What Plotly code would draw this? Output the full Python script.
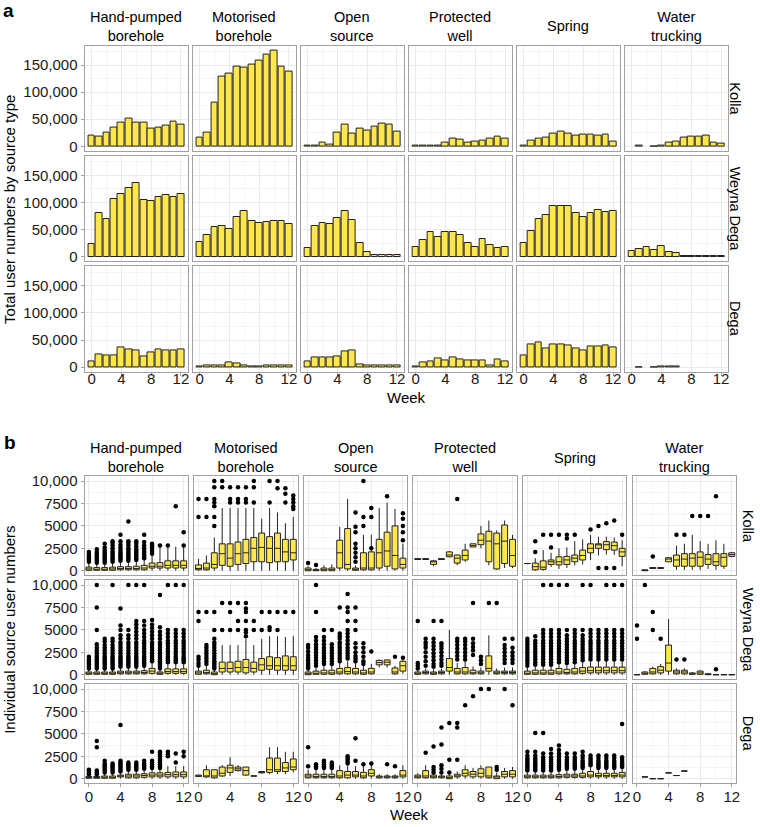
import plotly.graph_objects as go

W, H = 760, 827
WEEKS = [0, 1, 2, 3, 4, 5, 6, 7, 8, 9, 10, 11, 12]
SOURCES = ["Hand-pumped<br>borehole", "Motorised<br>borehole", "Open<br>source",
           "Protected<br>well", "Spring", "Water<br>trucking"]
ZONES = ["Kolla", "Weyna Dega", "Dega"]
A_YTICKS = [0, 50000, 100000, 150000]
A_YTEXT = ["0", "50,000", "100,000", "150,000"]
B_YTICKS = [0, 2500, 5000, 7500, 10000]
B_YTEXT = ["0", "2500", "5000", "7500", "10,000"]
XTICKS = [0, 4, 8, 12]

# ---------------- panel a: weekly totals ----------------
kolla_hand = [20000, 18000, 26000, 34000, 44000, 51000, 43000, 43000, 32000, 35000, 38000, 45000, 40000]
kolla_motor = [16000, 26000, 80000, 129000, 134000, 147000, 145000, 150000, 159000, 170000, 177000, 147000, 137000]
kolla_open = [600, 1500, 6000, 3000, 26000, 40000, 23000, 32000, 29000, 37000, 41000, 40000, 28000]
kolla_prot = [800, 800, 800, 1000, 7000, 15000, 12000, 6000, 8500, 10000, 15000, 18000, 15000]
kolla_spring = [1500, 11000, 15000, 16000, 24000, 27000, 24000, 19000, 22000, 22000, 20000, 22000, 9000]
kolla_water = [None, 500, None, 300, 800, 7000, 9000, 16500, 18000, 18000, 20500, 6000, 4500]

weyna_hand = [23000, 80000, 70000, 107000, 115000, 127000, 136000, 104000, 102000, 110000, 113000, 110000, 115000]
weyna_motor = [27000, 40000, 54000, 56000, 52000, 74000, 84000, 66000, 63000, 64000, 66000, 66000, 60000]
weyna_open = [16000, 57000, 63000, 61000, 72000, 84000, 67000, 25000, 8000, 3500, 2500, 3000, 3000]
weyna_prot = [17000, 31000, 46000, 37000, 45000, 46000, 40000, 25000, 18000, 33000, 22000, 16000, 17000]
weyna_spring = [26000, 48000, 70000, 77000, 94000, 94000, 94000, 80000, 74000, 80000, 86000, 83000, 84000]
weyna_water = [10000, 14500, 17000, 11500, 20000, 8500, 7000, 2000, 1000, 1500, 500, 1000, 500]

dega_hand = [10000, 24000, 22000, 21000, 37000, 32000, 31000, 19000, 28000, 32000, 30000, 30000, 32000]
dega_motor = [500, 4000, 2500, 3500, 8000, 6000, 3000, 500, 500, 4000, 4000, 3500, 4000]
dega_open = [10000, 17000, 17000, 18000, 19000, 29000, 30000, 5500, 3500, 3500, 3000, 3000, 3000]
dega_prot = [2000, 8500, 10000, 16000, 12000, 18000, 14000, 13000, 13000, 13000, 3000, 14000, 10000]
dega_spring = [21000, 41000, 46000, 34000, 42000, 42000, 40000, 35000, 30000, 38000, 38000, 40000, 37000]
dega_water = [None, 300, None, 300, 800, 400, 400, None, None, None, None, None, None]

TOTALS = [
    [kolla_hand, kolla_motor, kolla_open, kolla_prot, kolla_spring, kolla_water],
    [weyna_hand, weyna_motor, weyna_open, weyna_prot, weyna_spring, weyna_water],
    [dega_hand, dega_motor, dega_open, dega_prot, dega_spring, dega_water],
]

# ---------------- panel b: per-source box stats (lower, q1, median, q3, upper) ----------------
box_kolla_hand = [(0, 50, 200, 400, 900), (0, 50, 150, 350, 800), (0, 50, 150, 350, 800),
                  (0, 50, 200, 400, 900), (0, 100, 250, 450, 1000), (0, 100, 250, 450, 1000),
                  (0, 100, 250, 500, 1100), (0, 100, 300, 600, 1300), (0, 300, 500, 850, 1700),
                  (0, 300, 500, 900, 2600), (0, 300, 600, 1100, 2600), (0, 300, 600, 1100, 2700),
                  (0, 300, 600, 1100, 2700)]
out_kolla_hand = {0: [1000, 1200, 1400, 1600, 1800, 2100],
                  1: [900, 1100, 1300, 1500, 1700, 1900, 2100, 2400],
                  2: [900, 1100, 1300, 1500, 1700, 1900, 2100, 2300, 2600, 3000],
                  3: [1000, 1200, 1400, 1600, 1800, 2000, 2200, 2500, 2800, 3100, 3300],
                  4: [1100, 1300, 1500, 1700, 1900, 2100, 2300, 2600, 2900, 3300, 4000],
                  5: [1100, 1300, 1500, 1700, 1900, 2100, 2300, 2500, 2800, 3100, 3300, 5500],
                  6: [1200, 1400, 1600, 1800, 2000, 2200, 2400, 2700, 3000, 3300],
                  7: [1400, 1600, 1800, 2000, 2200, 2500, 2800, 3200, 4000],
                  8: [1900, 2100, 2300, 2600, 2800, 3000],
                  9: [2800], 10: [2800], 11: [7200], 12: [2800, 4300]}

box_kolla_motor = [(0, 100, 250, 650, 1300), (0, 100, 300, 850, 1700), (0, 300, 700, 2000, 3700),
                   (0, 600, 1900, 3000, 7000), (0, 500, 1400, 3000, 7000), (0, 700, 1900, 3200, 7000),
                   (0, 800, 2000, 3500, 7000), (0, 1000, 2500, 3700, 7000), (0, 1000, 2600, 4200, 5800),
                   (0, 900, 2500, 3800, 7000), (0, 1000, 2500, 4200, 6500), (0, 1000, 2100, 3500, 5300),
                   (0, 1200, 2000, 3500, 6000)]
out_kolla_motor = {0: [6000, 8000], 1: [6000, 8000],
                   2: [5000, 6000, 7200, 7600, 8000, 9300, 10000],
                   3: [9300, 10000], 4: [7600, 8000, 9300], 5: [7600, 8000, 9300],
                   6: [7600, 8000, 9300], 7: [7600, 9300, 10000], 9: [7600, 10000],
                   10: [9200, 10000], 11: [7600, 8600, 9200],
                   12: [6900, 7200, 7600, 8000, 8400]}

box_kolla_open = [(0, 0, 100, 300, 500), (0, 0, 50, 150, 300), (0, 0, 100, 300, 600),
                  (0, 0, 100, 300, 700), (0, 300, 2000, 3400, 4900), (0, 200, 700, 4700, 8000),
                  (0, 50, 150, 300, 600), (0, 100, 300, 2000, 4000), (0, 100, 300, 2100, 4000),
                  (0, 300, 2000, 3500, 7000), (0, 500, 2200, 4300, 7600), (0, 200, 1700, 5000, 6900),
                  (0, 300, 700, 1400, 3000)]
out_kolla_open = {0: [850], 1: [650],
                  6: [1000, 1500, 2000, 2500, 3000, 4300, 4900, 6500],
                  7: [5000, 6000, 10000], 8: [2500, 6000, 7000], 10: [8300],
                  12: [3400, 4300, 5000, 5800, 6400]}

box_kolla_prot = [(1250, 1250, 1300, 1350, 1350), (1250, 1250, 1300, 1350, 1350),
                  (500, 700, 1000, 1100, 1200), (1250, 1250, 1300, 1350, 1350),
                  (1500, 1550, 1750, 2100, 2200), (600, 850, 1400, 1750, 1800),
                  (1000, 1200, 1700, 2300, 3000), (2650, 2650, 2800, 3000, 3000),
                  (2500, 2900, 3400, 4100, 5000), (600, 1000, 3300, 4400, 5600),
                  (100, 200, 3000, 4200, 4500), (300, 800, 3300, 5100, 5600),
                  (300, 500, 1700, 3500, 4000)]
out_kolla_prot = {5: [8000]}

box_kolla_spring = [(800, 800, 800, 800, 800), (0, 100, 450, 850, 1400), (0, 150, 400, 1100, 2300),
                    (400, 700, 1000, 1200, 2000), (200, 650, 1000, 1550, 2500), (300, 700, 1200, 1600, 2600),
                    (600, 1000, 1400, 1750, 3300), (700, 1200, 1700, 2300, 3500), (1200, 2000, 2500, 3000, 4000),
                    (1700, 2500, 2900, 3000, 3800), (1800, 2350, 2900, 3250, 3800), (1750, 2300, 2800, 3200, 3700),
                    (500, 1600, 2100, 2500, 3400)]
out_kolla_spring = {1: [2100, 3300], 2: [4000], 3: [2600, 4000], 4: [4000], 5: [3600, 4000],
                    6: [4000], 8: [4600], 9: [300, 5000], 10: [300, 5300], 11: [300, 5600],
                    12: [4000]}

box_kolla_water = [None, (0, 0, 50, 100, 100), (250, 250, 300, 350, 350), (250, 250, 300, 350, 350),
                   (1000, 1000, 1300, 1450, 1450), (100, 500, 1200, 1750, 2800), (100, 500, 1300, 1900, 3000),
                   (100, 500, 1400, 1900, 4000), (100, 500, 1500, 2100, 3300), (200, 700, 1300, 1800, 3000),
                   (100, 600, 1000, 1900, 3400), (200, 500, 1500, 1900, 3000), (1500, 1600, 1800, 2000, 2100)]
out_kolla_water = {2: [1600], 5: [4000], 6: [4000], 7: [6100], 8: [6100], 9: [6100], 10: [8300]}

box_weyna_hand = [(0, 50, 150, 300, 600), (0, 50, 150, 300, 600), (0, 50, 150, 300, 600),
                  (0, 50, 150, 300, 600), (0, 100, 200, 400, 800), (0, 100, 200, 400, 800),
                  (0, 100, 200, 400, 800), (0, 100, 250, 450, 900), (0, 150, 400, 700, 1400),
                  (0, 50, 150, 300, 600), (0, 150, 350, 650, 1300), (0, 150, 350, 650, 1300),
                  (0, 150, 350, 650, 1300)]
out_weyna_hand = {
    0: [700, 900, 1100, 1300, 1500, 1700, 2000],
    1: [700, 900, 1100, 1300, 1500, 1700, 1900, 2100, 2400, 2700, 3000, 3400, 5000, 7500, 10000],
    2: [700, 900, 1100, 1300, 1500, 1700, 1900, 2100, 2400, 2700, 3000, 3300, 3700, 4000],
    3: [700, 900, 1100, 1300, 1500, 1700, 1900, 2100, 2400, 2700, 3000, 3300, 3700, 4000, 10000],
    4: [900, 1100, 1300, 1500, 1700, 1900, 2100, 2400, 2700, 3000, 3300, 3600, 4000, 4400, 5000, 5500, 7400],
    5: [900, 1100, 1300, 1500, 1700, 1900, 2100, 2400, 2700, 3000, 3300, 3600, 4000, 4400, 5000, 10000],
    6: [900, 1100, 1300, 1500, 1700, 1900, 2100, 2400, 2700, 3000, 3300, 3600, 4000, 4400, 4800, 5200, 5600, 6000, 10000],
    7: [1000, 1200, 1400, 1600, 1800, 2000, 2300, 2600, 2900, 3200, 3500, 3800, 4200, 4600, 5000, 5500, 6000, 10000],
    8: [1500, 1700, 1900, 2100, 2400, 2700, 3000, 3300, 3600, 4000, 4400, 4800, 5200, 5600, 6100],
    9: [700, 900, 1100, 1300, 1500, 1700, 1900, 2100, 2400, 2700, 3000, 3300, 3600, 4000, 4400, 4800, 5300, 8900],
    10: [1400, 1600, 1800, 2000, 2300, 2600, 2900, 3200, 3500, 3800, 4200, 4600, 5000, 10000],
    11: [1400, 1600, 1800, 2000, 2300, 2600, 2900, 3200, 3500, 3800, 4200, 4600, 5000, 10000],
    12: [1400, 1600, 1800, 2000, 2300, 2600, 2900, 3200, 3500, 3800, 4200, 4600, 5000, 10000]}

box_weyna_motor = [(0, 50, 200, 400, 800), (0, 100, 250, 500, 1000), (0, 0, 100, 300, 600),
                   (0, 300, 700, 1400, 3300), (0, 300, 700, 1400, 3300), (0, 300, 800, 1500, 3300),
                   (0, 200, 800, 1700, 4000), (0, 300, 700, 1400, 3300), (0, 500, 1100, 1800, 4000),
                   (0, 600, 1000, 2000, 4300), (0, 500, 1000, 1900, 4300), (0, 500, 1000, 2100, 4200),
                   (0, 500, 1000, 2000, 4300)]
out_weyna_motor = {0: [1000, 1300, 1700, 2000, 6000, 7000],
                   1: [1200, 1500, 1800, 2100, 2400, 2700, 3000, 3300, 7000],
                   2: [700, 900, 1100, 1300, 1500, 1800, 2100, 2400, 2700, 3000, 3300, 3600, 4000, 5000, 7000],
                   3: [5000, 8000], 4: [5000, 7000, 8000], 5: [5000, 6000, 8000],
                   6: [4300, 4700, 5000, 6000, 7000, 7400, 8000], 7: [5000, 6000],
                   8: [5000, 7000], 9: [5000, 5300, 7000], 10: [5000, 7000], 11: [7000], 12: [7000]}

box_weyna_open = [(0, 0, 100, 300, 500), (0, 50, 150, 400, 800), (0, 50, 200, 500, 1000),
                  (0, 50, 200, 500, 1000), (0, 100, 300, 700, 1300), (0, 100, 350, 800, 1500),
                  (0, 100, 300, 700, 1300), (0, 50, 200, 500, 1000), (0, 100, 300, 700, 1200),
                  (800, 1100, 1350, 1600, 1700), (800, 1100, 1400, 1650, 1700), (0, 100, 300, 750, 1000),
                  (100, 400, 1000, 1500, 1700)]
out_weyna_open = {
    0: [700, 900, 1100, 1300, 1600, 1900, 2200, 2600, 3000, 3300],
    1: [1000, 1300, 1600, 1900, 2200, 2500, 2800, 3100, 3400, 3800, 4200, 7000, 10000],
    2: [1200, 1500, 1800, 2100, 2400, 2700, 3000, 3400, 3800, 4200, 5000],
    3: [1200, 1500, 1800, 2100, 2400, 2700, 3000, 3400, 5000],
    4: [1500, 1800, 2100, 2400, 2700, 3000, 3300, 3600, 4000, 4300, 4600, 7500],
    5: [1800, 2100, 2400, 2700, 3000, 3400, 3800, 4200, 4600, 5000, 6000, 7000, 7500, 9000],
    6: [1500, 1800, 2100, 2500, 3000, 3500, 5000, 6000, 7500],
    7: [1200, 1500, 2000, 2500, 3000, 3500],
    8: [2600], 11: [2000], 12: [1900]}

box_weyna_prot = [(0, 50, 150, 300, 500), (0, 100, 250, 400, 700), (0, 50, 150, 300, 600),
                  (0, 100, 250, 400, 700), (0, 400, 800, 1800, 5000), (0, 100, 300, 700, 1300),
                  (0, 100, 300, 800, 1500), (0, 100, 200, 500, 900), (0, 100, 200, 400, 800),
                  (0, 400, 700, 2100, 4400), (0, 100, 200, 400, 700), (0, 100, 250, 400, 800),
                  (0, 100, 250, 400, 800)]
out_weyna_prot = {0: [700, 1000, 1300, 6000],
                  1: [1000, 1500, 2000, 2500, 3000, 3300, 3600, 4000],
                  2: [900, 1200, 1600, 2000, 2400, 2800, 3200, 3600, 4000, 6000],
                  3: [1000, 1300, 1700, 2100, 2500, 2900, 3200, 3500, 6000],
                  5: [1700, 2100, 2500, 2900, 3300, 3700, 4000],
                  6: [1700, 2100, 2500, 2900, 3300, 3700, 4000],
                  7: [2200, 2700, 3100, 3500, 4000, 8000],
                  8: [1200, 1600, 2000], 9: [8000], 10: [8000],
                  11: [1300, 1700, 2100, 2500, 2900, 3300, 4000],
                  12: [1300, 1700, 2100, 2500, 3000, 4000]}

box_weyna_spring = [(0, 50, 150, 400, 800), (0, 50, 200, 500, 900), (0, 50, 200, 500, 900),
                    (0, 50, 200, 500, 900), (0, 100, 300, 700, 1200), (0, 100, 250, 600, 1100),
                    (0, 100, 300, 700, 1200), (0, 150, 400, 800, 1400), (0, 200, 450, 850, 1500),
                    (0, 200, 450, 850, 1500), (0, 200, 450, 850, 1500), (0, 200, 450, 850, 1500),
                    (0, 200, 450, 850, 1500)]
out_weyna_spring = {
    0: [1000, 1300, 1600, 1900, 2200, 2500, 2800, 3100, 3400, 3700, 4000],
    1: [1100, 1400, 1700, 2000, 2300, 2600, 2900, 3200, 3500, 3800, 4300],
    2: [1100, 1400, 1700, 2000, 2300, 2600, 2900, 3200, 3500, 3800, 4200, 4600, 5000, 10000],
    3: [1100, 1400, 1700, 2000, 2300, 2600, 2900, 3200, 3500, 3800, 4200, 4600, 5000, 10000],
    4: [1400, 1700, 2000, 2300, 2600, 2900, 3200, 3500, 3800, 4200, 4600, 5000, 10000],
    5: [1300, 1600, 1900, 2200, 2500, 2800, 3100, 3400, 3700, 4000, 4400, 5000, 10000],
    6: [1400, 1700, 2000, 2300, 2600, 2900, 3200, 3500, 3800, 4200, 4600, 5000],
    7: [1600, 1900, 2200, 2500, 2800, 3100, 3400, 3700, 4000, 4400, 5000, 10000],
    8: [1700, 2000, 2300, 2600, 2900, 3200, 3500, 3800, 4200, 4600, 5000, 10000],
    9: [1700, 2000, 2300, 2600, 2900, 3200, 3500, 3800, 4200, 4600, 5000],
    10: [1700, 2000, 2300, 2600, 2900, 3200, 3500, 3800, 4200, 4600, 5000, 10000],
    11: [1700, 2000, 2300, 2600, 2900, 3200, 3500, 3800, 4200, 4600, 5000, 10000],
    12: [1700, 2000, 2300, 2600, 2900, 3200, 3500, 3800, 4200, 4600, 5000, 10000]}

box_weyna_water = [(0, 0, 0, 0, 0), (0, 50, 100, 300, 400), (0, 100, 300, 700, 900),
                   (0, 200, 500, 900, 1200), (0, 400, 1300, 3300, 6200), (0, 100, 300, 500, 700),
                   (0, 100, 300, 500, 700), (0, 50, 100, 200, 300), (0, 50, 200, 400, 500),
                   (0, 0, 50, 100, 200), (0, 0, 0, 0, 0), (0, 0, 0, 0, 0), (0, 0, 0, 0, 0)]
out_weyna_water = {0: [4000, 5500], 1: [10000], 2: [5000, 7000], 3: [4000], 5: [1700],
                   6: [1700], 10: [600]}

box_dega_hand = [(0, 50, 100, 250, 400), (0, 50, 100, 250, 400), (0, 50, 150, 300, 500),
                 (0, 50, 150, 300, 500), (0, 200, 300, 400, 600), (0, 100, 300, 500, 800),
                 (0, 100, 300, 500, 800), (0, 150, 350, 550, 900), (0, 200, 400, 650, 1000),
                 (0, 200, 400, 650, 1000), (0, 200, 450, 700, 1400), (0, 200, 450, 750, 1400),
                 (0, 200, 450, 750, 1400)]
out_dega_hand = {0: [500, 700, 900, 1000], 1: [500, 700, 900, 3500, 4200],
                 2: [700, 900, 1100, 1300, 1500, 1700, 2000], 3: [700, 900, 1100, 1300, 1500, 1700],
                 4: [800, 1000, 1200, 1400, 1600, 1800, 2000, 6000],
                 5: [1000, 1200, 1400, 1600, 1800], 6: [1000, 1200, 1400, 1600, 1800],
                 7: [1100, 1300, 1500, 1700, 2000], 8: [1200, 1400, 1600, 1800, 2000, 3000],
                 9: [1200, 1400, 1600, 1800, 2000, 2200, 2500, 2700, 2900, 3000],
                 10: [2500, 2700, 3000], 11: [1800, 2800], 12: [2500, 3000]}

box_dega_motor = [(200, 250, 300, 400, 450), (100, 200, 300, 1000, 1500), (0, 100, 300, 1000, 1000),
                  (200, 300, 600, 1300, 1500), (300, 700, 1200, 1500, 2400), (800, 900, 1100, 1300, 1500),
                  (300, 400, 900, 1300, 1300), (300, 300, 300, 300, 300), (600, 650, 700, 800, 800),
                  (500, 700, 1000, 2300, 3500), (500, 800, 1000, 2300, 3500), (500, 800, 1200, 1800, 3000),
                  (700, 1000, 1300, 2200, 3000)]
out_dega_motor = {}

box_dega_open = [(0, 100, 300, 500, 1000), (0, 100, 250, 500, 1000), (0, 100, 250, 500, 1000),
                 (0, 100, 250, 500, 1000), (0, 100, 300, 900, 1500), (0, 100, 400, 800, 1400),
                 (0, 200, 400, 800, 1400), (0, 100, 300, 700, 1500), (0, 300, 600, 1000, 1500),
                 (0, 100, 200, 300, 500), (0, 100, 200, 300, 500), (0, 100, 200, 300, 500),
                 (0, 200, 400, 900, 1500)]
out_dega_open = {0: [1400, 3500], 1: [1200, 1400, 1600], 2: [1200, 1400, 1600, 1800, 2000],
                 3: [1200, 1400, 1600, 1800], 5: [1700, 1900, 2100, 2300, 2500],
                 6: [2000, 4500], 7: [1600], 8: [1700], 10: [1600], 11: [1400]}

box_dega_prot = [(0, 100, 200, 400, 600), (0, 100, 300, 900, 1500), (0, 100, 200, 400, 600),
                 (0, 100, 200, 300, 500), (0, 0, 100, 300, 500), (0, 200, 300, 500, 800),
                 (0, 300, 600, 1000, 1500), (0, 200, 500, 800, 1200), (0, 200, 600, 1100, 1500),
                 (0, 100, 300, 1300, 1300), (0, 0, 200, 300, 700), (0, 200, 500, 800, 1200),
                 (0, 200, 500, 900, 1300)]
out_dega_prot = {1: [2900], 2: [700, 1000, 1300, 3600], 3: [700, 1100, 1500, 3800, 5700],
                 4: [700, 2100, 6200], 5: [2100, 5700, 6200], 6: [8200], 7: [9200],
                 8: [10000], 9: [10000], 10: [1000, 1300], 11: [10000], 12: [8200]}

box_dega_spring = [(0, 100, 200, 400, 700), (0, 100, 200, 400, 700), (0, 100, 200, 400, 700),
                   (0, 100, 200, 400, 700), (0, 100, 250, 450, 800), (0, 150, 300, 500, 900),
                   (0, 150, 300, 500, 900), (0, 150, 300, 600, 1000), (0, 200, 400, 800, 1300),
                   (0, 200, 350, 600, 1000), (0, 200, 350, 600, 1000), (0, 200, 350, 600, 1000),
                   (0, 200, 400, 700, 1100)]
out_dega_spring = {
    0: [900, 1100, 1300, 1500, 1700, 1900, 2100, 2300, 2600, 3000],
    1: [900, 1100, 1300, 1500, 1700, 1900, 2100, 2300, 2600, 3000, 5100],
    2: [900, 1100, 1300, 1500, 1700, 1900, 2100, 2400, 2800, 5100],
    3: [900, 1100, 1300, 1500, 1700, 1900, 2100, 2400, 2800, 3300],
    4: [1000, 1200, 1400, 1600, 1800, 2000, 2200, 2500, 2800, 3200, 3700],
    5: [1100, 1300, 1500, 1700, 1900, 2100, 2400, 2800],
    6: [1100, 1300, 1500, 1700, 1900, 2100, 2400, 2800],
    7: [1200, 1400, 1600, 1800, 2000, 2300, 2600, 3000],
    8: [1500, 1700, 1900, 2100, 2300, 2600],
    9: [1200, 1400, 1600, 1800, 2000, 2300, 2600],
    10: [1200, 1400, 1600, 1800, 2000, 2300, 2600],
    11: [1200, 1400, 1600, 1800, 2000, 2300, 2600],
    12: [1300, 1500, 1700, 1900, 2100, 2400, 6100]}

box_dega_water = [None, (200, 200, 200, 200, 200), (0, 0, 0, 0, 0), (0, 0, 0, 0, 0),
                  (650, 650, 650, 650, 650), (350, 350, 350, 350, 350), (850, 850, 850, 850, 850),
                  None, None, None, None, None, None]
out_dega_water = {}

BOXES = [
    [box_kolla_hand, box_kolla_motor, box_kolla_open, box_kolla_prot, box_kolla_spring, box_kolla_water],
    [box_weyna_hand, box_weyna_motor, box_weyna_open, box_weyna_prot, box_weyna_spring, box_weyna_water],
    [box_dega_hand, box_dega_motor, box_dega_open, box_dega_prot, box_dega_spring, box_dega_water],
]
OUTLIERS = [
    [out_kolla_hand, out_kolla_motor, out_kolla_open, out_kolla_prot, out_kolla_spring, out_kolla_water],
    [out_weyna_hand, out_weyna_motor, out_weyna_open, out_weyna_prot, out_weyna_spring, out_weyna_water],
    [out_dega_hand, out_dega_motor, out_dega_open, out_dega_prot, out_dega_spring, out_dega_water],
]

# ---------------- geometry & style ----------------
YELLOW = "#FDE74C"
BORDER = "#A0A0A0"
GRID = "#EBEBEB"
GRID_MINOR = "#F5F5F5"
FONT = "Liberation Sans, Arial, sans-serif"
TXT = "#1a1a1a"

A_COL_LEFT = [85, 193.6, 302.2, 410.8, 519.4, 628]
A_ROW_TOP = [42, 153.5, 265]
A_W, A_H = 104, 106.5
B_COL_LEFT = [85, 195.2, 305.4, 415.6, 525.8, 636]
B_ROW_TOP = [477, 582, 687]
B_W, B_H = 104, 100


def xdom(left, w):
    return [left / W, (left + w) / W]


def ydom(top, h):
    return [1 - (top + h) / H, 1 - top / H]


fig = go.Figure()
layout = {}
ann = []
n = 0
for panel in ("a", "b"):
    cols = A_COL_LEFT if panel == "a" else B_COL_LEFT
    rows = A_ROW_TOP if panel == "a" else B_ROW_TOP
    pw, ph = (A_W, A_H) if panel == "a" else (B_W, B_H)
    for r in range(3):
        for c in range(6):
            n += 1
            xname = "x" if n == 1 else f"x{n}"
            yname = "y" if n == 1 else f"y{n}"
            xkey = "xaxis" if n == 1 else f"xaxis{n}"
            ykey = "yaxis" if n == 1 else f"yaxis{n}"
            bottom = r == 2
            left = c == 0
            layout[xkey] = dict(
                domain=xdom(cols[c], pw), anchor=yname,
                range=[-0.95, 12.95] if panel == "a" else [-0.55, 12.55],
                tickmode="array", tickvals=XTICKS,
                showticklabels=bottom, ticks="outside" if bottom else "",
                ticklen=3, tickcolor=BORDER, ticklabelstandoff=-10 if panel == "a" else -3,
                tickfont=dict(size=15, color=TXT, family=FONT),
                showgrid=True, gridcolor=GRID, gridwidth=1, zeroline=False,
                showline=True, mirror=True, linecolor=BORDER, linewidth=1,
                minor=dict(tickmode="array", tickvals=[2, 6, 10], showgrid=True,
                           gridcolor=GRID_MINOR, ticks=""),
                fixedrange=True)
            if panel == "a":
                yr, yt, ytt, ym = [-8850, 185850], A_YTICKS, A_YTEXT, [25000, 75000, 125000, 175000]
            else:
                yr, yt, ytt, ym = [-525, 10525], B_YTICKS, B_YTEXT, [1250, 3750, 6250, 8750]
            layout[ykey] = dict(
                domain=ydom(rows[r], ph), anchor=xname, range=yr,
                tickmode="array", tickvals=yt, ticktext=ytt,
                showticklabels=left, ticks="outside" if left else "",
                ticklen=3, tickcolor=BORDER,
                tickfont=dict(size=15, color=TXT, family=FONT),
                showgrid=True, gridcolor=GRID, gridwidth=1, zeroline=False,
                showline=True, mirror=True, linecolor=BORDER, linewidth=1,
                minor=dict(tickmode="array", tickvals=ym, showgrid=True,
                           gridcolor=GRID_MINOR, ticks=""),
                fixedrange=True)

            if panel == "a":
                vals = TOTALS[r][c]
                xs = [w for w, v in zip(WEEKS, vals) if v is not None]
                ys = [v for v in vals if v is not None]
                fig.add_trace(go.Bar(
                    x=xs, y=ys, width=0.9, xaxis=xname, yaxis=yname,
                    marker=dict(color=YELLOW, line=dict(color="#222222", width=1)),
                    showlegend=False, hoverinfo="skip"))
            else:
                stats = BOXES[r][c]
                xs = [w for w, s in zip(WEEKS, stats) if s is not None]
                ss = [s for s in stats if s is not None]
                fig.add_trace(go.Box(
                    x=xs,
                    lowerfence=[s[0] for s in ss], q1=[s[1] for s in ss],
                    median=[s[2] for s in ss], q3=[s[3] for s in ss],
                    upperfence=[s[4] for s in ss],
                    width=0.75, whiskerwidth=0, boxpoints=False,
                    fillcolor=YELLOW, line=dict(color="#222222", width=1),
                    xaxis=xname, yaxis=yname, showlegend=False, hoverinfo="skip"))
                outs = OUTLIERS[r][c]
                ox, oy = [], []
                for wk, lst in outs.items():
                    for v in lst:
                        ox.append(wk)
                        oy.append(v)
                if ox:
                    fig.add_trace(go.Scatter(
                        x=ox, y=oy, mode="markers", xaxis=xname, yaxis=yname,
                        marker=dict(color="black", size=4.5, line=dict(width=0)),
                        showlegend=False, hoverinfo="skip"))

            if r == 0:
                ann.append(dict(
                    text=SOURCES[c], x=(cols[c] + pw / 2) / W,
                    y=1 - ((22.5 if panel == "a" else 458) / H),
                    xref="paper", yref="paper", xanchor="center", yanchor="middle",
                    showarrow=False, font=dict(size=14.5, color="black", family=FONT)))
            if c == 5:
                ann.append(dict(
                    text=ZONES[r], x=(739 if panel == "a" else 752) / W,
                    y=1 - (rows[r] + ph / 2) / H, textangle=90,
                    xref="paper", yref="paper", xanchor="center", yanchor="middle",
                    showarrow=False, font=dict(size=14.5, color="black", family=FONT)))

extra = [
    dict(text="<b>a</b>", x=1 / W, y=1 - 7 / H, xanchor="left", yanchor="middle",
         font=dict(size=19, color="black", family=FONT)),
    dict(text="<b>b</b>", x=2 / W, y=1 - 443 / H, xanchor="left", yanchor="middle",
         font=dict(size=19, color="black", family=FONT)),
    dict(text="Week", x=409 / W, y=1 - 397 / H, xanchor="center", yanchor="middle"),
    dict(text="Week", x=412 / W, y=1 - 818 / H, xanchor="center", yanchor="middle"),
    dict(text="Total user numbers by source type", x=10 / W, y=1 - 207 / H,
         textangle=-90, xanchor="center", yanchor="middle"),
    dict(text="Individual source user numbers", x=10 / W, y=1 - 632 / H,
         textangle=-90, xanchor="center", yanchor="middle"),
]
for a in extra:
    a.update(xref="paper", yref="paper", showarrow=False)
    a.setdefault("font", dict(size=15, color="black", family=FONT))
ann += extra

fig.update_layout(
    width=W, height=H, margin=dict(l=0, r=0, t=0, b=0),
    paper_bgcolor="white", plot_bgcolor="white",
    font=dict(family=FONT, color=TXT),
    annotations=ann, showlegend=False, bargap=0, **layout)

fig.write_html("out.html", config={"displayModeBar": False},
               post_script="document.body.style.margin='0px';")
